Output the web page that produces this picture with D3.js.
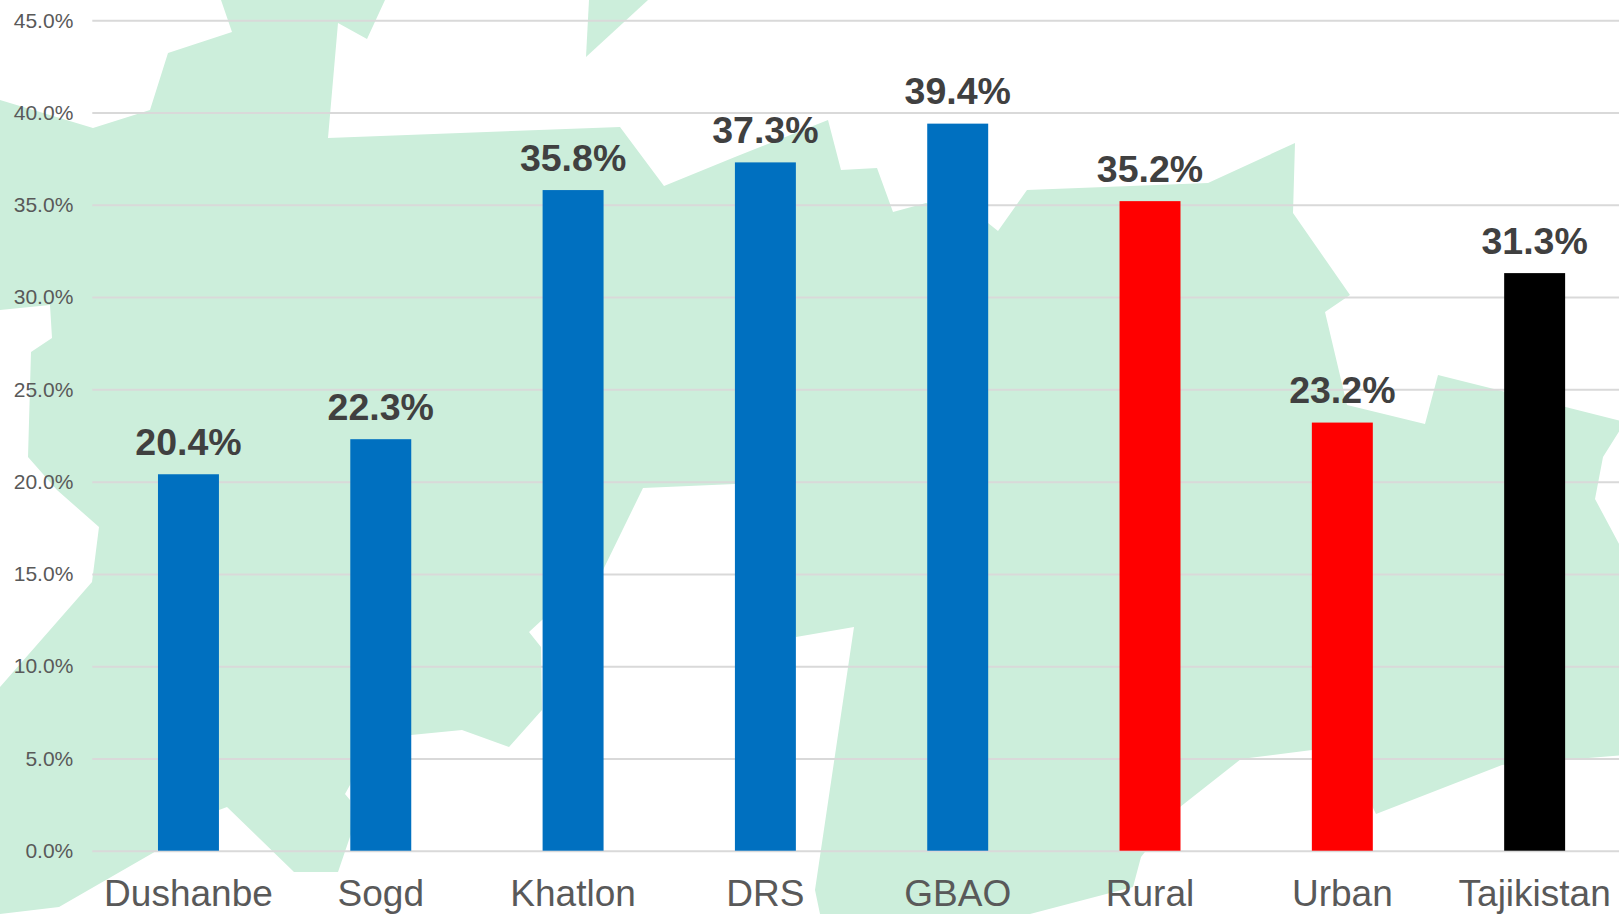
<!DOCTYPE html>
<html>
<head>
<meta charset="utf-8">
<script src="https://cdn.jsdelivr.net/npm/d3@7/dist/d3.min.js"></script>
<style>
html,body{margin:0;padding:0;background:#fff;overflow:hidden}
svg{display:block}
text{font-family:"Liberation Sans",Arial,sans-serif}
</style>
</head>
<body>
<svg id="chart" width="1619" height="914"></svg>
<script>
const categories = ["Dushanbe","Sogd","Khatlon","DRS","GBAO","Rural","Urban","Tajikistan"];
const values = [20.4,22.3,35.8,37.3,39.4,35.2,23.2,31.3];
const barColors = ["#0070c0","#0070c0","#0070c0","#0070c0","#0070c0","#ff0000","#ff0000","#000000"];
const yTicks = [0,5,10,15,20,25,30,35,40,45];

// Watermark outline of the country behind the plot (picture-pixel coordinates)
const mapOutline = [[0,100],[93,128],[150,110],[168,53],[232,32],[221,0],[385,0],[367,39],[338,23],[328,138],[620,127],[664,186],[735,157],[828,120],[841,170],[877,168],[893,212],[926,203],[988,223],[998,231],[1027,190],[1208,183],[1295,143],[1293,213],[1350,295],[1325,312],[1347,405],[1425,424],[1438,375],[1625,422],[1603,457],[1595,499],[1625,555],[1625,755],[1502,765],[1376,814],[1345,750],[1312,750],[1241,759],[1180,807],[1141,857],[1133,887],[1030,914],[820,914],[815,890],[854,627],[796,637],[735,484],[643,488],[603,570],[575,600],[542,620],[529,632],[541,647],[542,710],[509,747],[462,730],[411,735],[360,745],[350,785],[345,794],[350,800],[351,834],[338,872],[294,872],[227,807],[219,810],[158,850],[59,907],[0,914],[0,687],[92,582],[99,527],[57,490],[28,457],[31,352],[52,338],[50,305],[0,310]];
const mapWedge = [[589,0],[586,57],[648,0]];

const svg = d3.select("#chart");
const defs = svg.append("defs");
defs.append("filter").attr("id","soft").append("feGaussianBlur").attr("stdDeviation",0.7);

const line = d3.line().curve(d3.curveLinearClosed);
svg.append("g").attr("filter","url(#soft)").selectAll("path")
  .data([mapOutline,mapWedge]).join("path")
  .attr("d",line).attr("fill","#cceedb");

const y = d3.scaleLinear().domain([0,45]).range([850.7,20.3]);
const x = d3.scaleBand().domain(categories).range([92.3,1630.8]).paddingInner(0.683).paddingOuter(0.3415);

const yAxis = svg.append("g").attr("transform","translate(92.3,0)")
  .call(d3.axisLeft(y).tickValues(yTicks).tickFormat(d=>d.toFixed(1)+"%").tickSize(0).tickPadding(19));
yAxis.select(".domain").remove();
yAxis.selectAll("text").attr("font-size",21).attr("fill","#595959").style("font-family",'"Liberation Sans",Arial,sans-serif');
yAxis.selectAll(".tick").append("line")
  .attr("x1",0).attr("x2",1540).attr("stroke","#d9d9d9").attr("stroke-width",2);

svg.append("g").selectAll("rect").data(categories).join("rect")
  .attr("x",d=>x(d)).attr("width",x.bandwidth())
  .attr("y",(d,i)=>y(values[i])).attr("height",(d,i)=>y(0)-y(values[i]))
  .attr("fill",(d,i)=>barColors[i]);

svg.append("g").selectAll("text").data(categories).join("text")
  .attr("x",d=>x(d)+x.bandwidth()/2).attr("y",(d,i)=>y(values[i])-19.3)
  .attr("text-anchor","middle").attr("font-size",37.5).attr("font-weight","bold").attr("fill","#404040")
  .text((d,i)=>values[i].toFixed(1)+"%");

const xAxis = svg.append("g").attr("transform","translate(0,850.7)")
  .call(d3.axisBottom(x).tickSize(0).tickPadding(0));
xAxis.select(".domain").remove();
xAxis.selectAll("text").attr("y",55).attr("dy",null).attr("font-size",37).attr("fill","#595959").style("font-family",'"Liberation Sans",Arial,sans-serif');
</script>
</body>
</html>
